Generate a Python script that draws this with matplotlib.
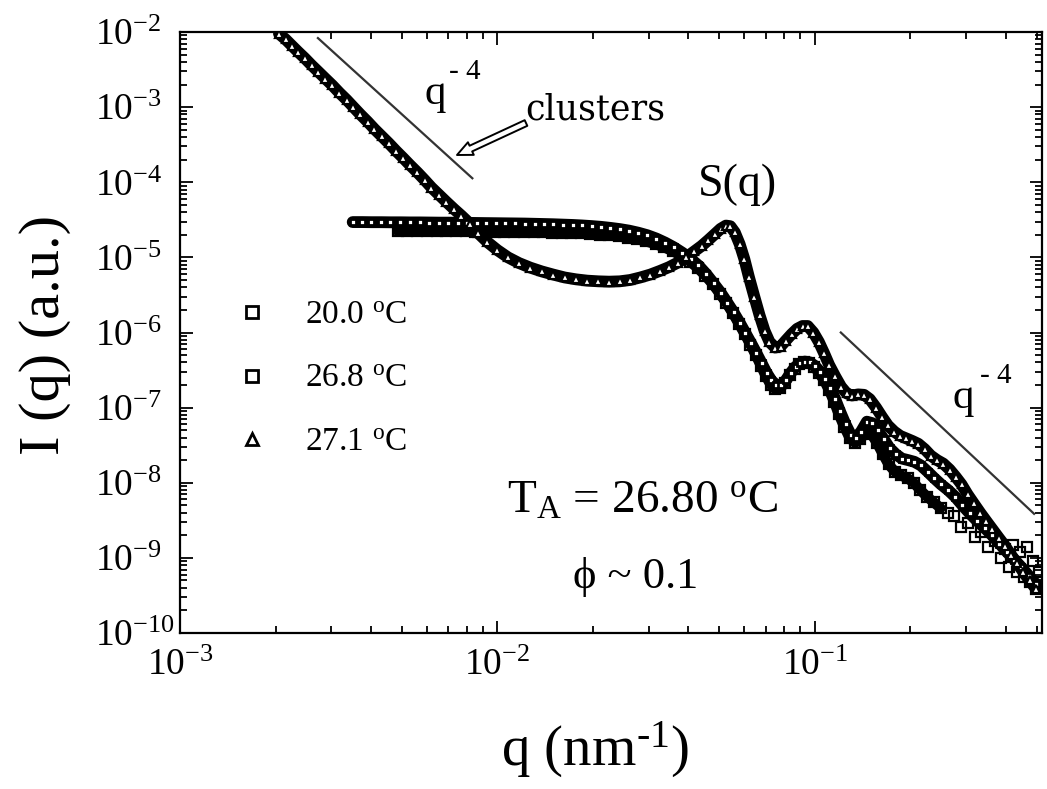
import matplotlib
matplotlib.use('Agg')
import matplotlib.pyplot as plt
from matplotlib.ticker import LogLocator, NullFormatter

# --- data -----------------------------------------------------------------
# 27.1 C : cluster upturn, dip and S(q) peak
q_271 = [2.05e-3, 2.15e-3, 2.25e-3, 2.35e-3, 2.47e-3, 2.6e-3, 2.73e-3, 2.87e-3,
         3.02e-3, 3.18e-3, 3.35e-3, 3.52e-3, 3.7e-3, 3.9e-3, 4.1e-3, 4.32e-3,
         4.55e-3, 4.8e-3, 5.05e-3, 5.3e-3, 5.6e-3, 5.9e-3, 6.2e-3, 6.55e-3,
         6.9e-3, 7.3e-3, 7.7e-3, 8.2e-3, 8.7e-3, 9.3e-3, 1.0e-2, 1.08e-2,
         1.17e-2, 1.27e-2, 1.38e-2, 1.5e-2, 1.63e-2, 1.77e-2, 1.92e-2, 2.08e-2,
         2.25e-2, 2.43e-2, 2.62e-2, 2.82e-2, 3.03e-2, 3.25e-2, 3.47e-2, 3.7e-2,
         3.93e-2, 4.17e-2, 4.4e-2, 4.62e-2, 4.85e-2, 5.05e-2, 5.25e-2, 5.42e-2,
         5.6e-2, 5.8e-2, 6.0e-2, 6.2e-2, 6.45e-2, 6.7e-2, 6.95e-2, 7.2e-2,
         7.5e-2, 7.8e-2, 8.1e-2, 8.45e-2, 8.8e-2, 9.15e-2, 9.5e-2, 9.9e-2,
         1.03e-1, 1.07e-1, 1.11e-1, 1.16e-1, 1.21e-1, 1.26e-1, 1.31e-1, 1.37e-1,
         1.43e-1, 1.49e-1, 1.56e-1, 1.63e-1, 1.7e-1, 1.78e-1, 1.86e-1, 1.94e-1,
         2.03e-1, 2.12e-1, 2.22e-1, 2.32e-1, 2.43e-1, 2.54e-1, 2.66e-1, 2.78e-1,
         2.9e-1, 3.03e-1, 3.17e-1, 3.32e-1, 3.47e-1, 3.63e-1, 3.8e-1, 3.97e-1,
         4.15e-1, 4.34e-1, 4.54e-1, 4.75e-1, 4.97e-1]
I_271 = [9.5e-3, 8.0e-3, 6.6e-3, 5.5e-3, 4.5e-3, 3.6e-3, 2.95e-3, 2.4e-3,
         1.95e-3, 1.55e-3, 1.25e-3, 1.0e-3, 8.0e-4, 6.4e-4, 5.1e-4, 4.1e-4,
         3.3e-4, 2.6e-4, 2.1e-4, 1.7e-4, 1.35e-4, 1.07e-4, 8.5e-5, 6.8e-5,
         5.5e-5, 4.4e-5, 3.6e-5, 2.8e-5, 2.1e-5, 1.6e-5, 1.25e-5, 1.0e-5,
         8.4e-6, 7.3e-6, 6.5e-6, 5.9e-6, 5.4e-6, 5.1e-6, 4.9e-6, 4.8e-6,
         4.75e-6, 4.8e-6, 5.0e-6, 5.4e-6, 5.9e-6, 6.6e-6, 7.4e-6, 8.5e-6,
         1.0e-5, 1.2e-5, 1.42e-5, 1.7e-5, 2.05e-5, 2.4e-5, 2.65e-5, 2.6e-5,
         2.15e-5, 1.5e-5, 9.5e-6, 5.5e-6, 3.0e-6, 1.7e-6, 1.05e-6, 7.5e-7,
         6.3e-7, 6.5e-7, 7.8e-7, 9.5e-7, 1.12e-6, 1.22e-6, 1.22e-6, 1.0e-6,
         7.5e-7, 5.3e-7, 3.7e-7, 2.6e-7, 1.9e-7, 1.55e-7, 1.45e-7, 1.5e-7,
         1.48e-7, 1.3e-7, 1.0e-7, 7.5e-8, 5.8e-8, 4.8e-8, 4.2e-8, 3.9e-8,
         3.6e-8, 3.3e-8, 2.8e-8, 2.3e-8, 2.0e-8, 1.8e-8, 1.5e-8, 1.2e-8,
         9.5e-9, 7.0e-9, 5.3e-9, 4.0e-9, 3.1e-9, 2.4e-9, 1.85e-9, 1.45e-9,
         1.1e-9, 8.5e-10, 6.5e-10, 5.0e-10, 3.9e-10]

# 20.0 C : flat form factor
q_200 = [3.5e-3, 3.75e-3, 4.0e-3, 4.3e-3, 4.6e-3, 4.95e-3, 5.3e-3, 5.7e-3,
         6.1e-3, 6.55e-3, 7.0e-3, 7.5e-3, 8.05e-3, 8.6e-3, 9.2e-3, 9.9e-3,
         1.06e-2, 1.14e-2, 1.22e-2, 1.31e-2, 1.4e-2, 1.5e-2, 1.61e-2, 1.73e-2,
         1.85e-2, 1.98e-2, 2.12e-2, 2.27e-2, 2.43e-2, 2.6e-2, 2.78e-2, 2.97e-2,
         3.17e-2, 3.38e-2, 3.6e-2, 3.83e-2, 4.06e-2, 4.3e-2, 4.55e-2, 4.8e-2,
         5.05e-2, 5.3e-2, 5.55e-2, 5.8e-2, 6.05e-2, 6.3e-2, 6.55e-2, 6.8e-2,
         7.05e-2, 7.3e-2, 7.55e-2, 7.8e-2, 8.1e-2, 8.4e-2, 8.7e-2, 9.0e-2,
         9.3e-2, 9.65e-2, 1.0e-1, 1.04e-1, 1.08e-1, 1.12e-1, 1.16e-1, 1.2e-1,
         1.25e-1, 1.3e-1, 1.35e-1, 1.4e-1, 1.46e-1, 1.52e-1, 1.58e-1, 1.65e-1,
         1.72e-1, 1.8e-1, 1.88e-1, 1.97e-1, 2.06e-1, 2.16e-1, 2.27e-1, 2.38e-1,
         2.5e-1, 2.63e-1, 2.77e-1, 2.92e-1, 3.08e-1, 3.25e-1, 3.43e-1, 3.62e-1,
         3.82e-1, 4.03e-1, 4.25e-1, 4.48e-1, 4.72e-1, 4.97e-1]
I_200 = [2.95e-5, 2.95e-5, 2.94e-5, 2.94e-5, 2.93e-5, 2.93e-5, 2.92e-5, 2.92e-5,
         2.91e-5, 2.9e-5, 2.9e-5, 2.89e-5, 2.88e-5, 2.87e-5, 2.86e-5, 2.85e-5,
         2.84e-5, 2.83e-5, 2.82e-5, 2.8e-5, 2.78e-5, 2.76e-5, 2.73e-5, 2.7e-5,
         2.66e-5, 2.61e-5, 2.55e-5, 2.47e-5, 2.38e-5, 2.27e-5, 2.13e-5, 1.97e-5,
         1.78e-5, 1.57e-5, 1.36e-5, 1.15e-5, 9.6e-6, 7.8e-6, 6.0e-6, 4.5e-6,
         3.4e-6, 2.5e-6, 1.85e-6, 1.35e-6, 9.8e-7, 7.2e-7, 5.3e-7, 3.9e-7,
         2.9e-7, 2.3e-7, 2.0e-7, 2.0e-7, 2.3e-7, 2.9e-7, 3.5e-7, 3.9e-7,
         4.1e-7, 4.0e-7, 3.6e-7, 3.0e-7, 2.4e-7, 1.8e-7, 1.3e-7, 9.0e-8,
         6.0e-8, 4.3e-8, 4.0e-8, 4.8e-8, 6.5e-8, 6.2e-8, 5.0e-8, 3.8e-8,
         2.9e-8, 2.4e-8, 2.1e-8, 2.0e-8, 1.9e-8, 1.7e-8, 1.4e-8, 1.15e-8,
         9.5e-9, 8.0e-9, 6.5e-9, 5.0e-9, 3.9e-9, 3.1e-9, 2.5e-9, 2.0e-9,
         1.55e-9, 1.2e-9, 9.5e-10, 7.5e-10, 5.8e-10, 4.5e-10]

# 26.8 C : flat, noisy at high q
q_268 = [4.85e-3, 5.2e-3, 5.6e-3, 6.0e-3, 6.45e-3, 6.9e-3, 7.4e-3, 7.95e-3,
         8.5e-3, 9.1e-3, 9.8e-3, 1.05e-2, 1.13e-2, 1.21e-2, 1.3e-2, 1.39e-2,
         1.49e-2, 1.6e-2, 1.71e-2, 1.83e-2, 1.96e-2, 2.1e-2, 2.25e-2, 2.41e-2,
         2.58e-2, 2.76e-2, 2.95e-2, 3.15e-2, 3.36e-2, 3.58e-2, 3.81e-2, 4.04e-2,
         4.28e-2, 4.52e-2, 4.77e-2, 5.02e-2, 5.27e-2, 5.52e-2, 5.77e-2, 6.02e-2,
         6.27e-2, 6.52e-2, 6.77e-2, 7.02e-2, 7.27e-2, 7.52e-2, 7.77e-2, 8.05e-2,
         8.35e-2, 8.65e-2, 8.95e-2, 9.25e-2, 9.6e-2, 9.95e-2, 1.03e-1, 1.07e-1,
         1.11e-1, 1.15e-1, 1.19e-1, 1.24e-1, 1.29e-1, 1.34e-1, 1.39e-1, 1.45e-1,
         1.51e-1, 1.57e-1, 1.64e-1, 1.71e-1, 1.79e-1, 1.87e-1, 1.96e-1, 2.05e-1,
         2.15e-1, 2.26e-1, 2.37e-1, 2.49e-1, 2.62e-1, 2.75e-1, 2.89e-1, 3.04e-1,
         3.19e-1, 3.35e-1, 3.52e-1, 3.7e-1, 3.85e-1, 3.98e-1, 4.1e-1, 4.22e-1,
         4.33e-1, 4.44e-1, 4.55e-1, 4.66e-1, 4.77e-1, 4.88e-1, 4.98e-1, 5.08e-1]
I_268 = [2.25e-5, 2.25e-5, 2.24e-5, 2.24e-5, 2.23e-5, 2.23e-5, 2.22e-5, 2.22e-5,
         2.21e-5, 2.2e-5, 2.2e-5, 2.19e-5, 2.18e-5, 2.17e-5, 2.16e-5, 2.15e-5,
         2.14e-5, 2.12e-5, 2.1e-5, 2.08e-5, 2.05e-5, 2.01e-5, 1.96e-5, 1.9e-5,
         1.83e-5, 1.74e-5, 1.63e-5, 1.5e-5, 1.36e-5, 1.2e-5, 1.04e-5, 8.8e-6,
         7.2e-6, 5.7e-6, 4.4e-6, 3.3e-6, 2.45e-6, 1.8e-6, 1.3e-6, 9.5e-7,
         6.9e-7, 5.0e-7, 3.6e-7, 2.6e-7, 2.0e-7, 1.75e-7, 1.8e-7, 2.1e-7,
         2.7e-7, 3.3e-7, 3.8e-7, 4.0e-7, 3.9e-7, 3.5e-7, 2.9e-7, 2.3e-7,
         1.7e-7, 1.2e-7, 8.2e-8, 5.5e-8, 3.9e-8, 3.4e-8, 3.8e-8, 4.6e-8,
         4.4e-8, 3.4e-8, 2.4e-8, 1.75e-8, 1.4e-8, 1.25e-8, 1.15e-8, 1.0e-8,
         8.0e-9, 6.5e-9, 5.5e-9, 4.6e-9, 3.9e-9, 3.6e-9, 2.6e-9, 2.9e-9,
         1.9e-9, 2.2e-9, 1.4e-9, 1.7e-9, 1.0e-9, 1.3e-9, 7.5e-10, 1.5e-9,
         6.5e-10, 1.2e-9, 5.5e-10, 1.4e-9, 4.8e-10, 9.0e-10, 3.8e-10, 6.5e-10]

# q^-4 guide lines
guide_lo_q = [2.72e-3, 8.34e-3]
guide_lo_I = [8.3e-3, 1.13e-4]
guide_hi_q = [0.1208, 0.491]
guide_hi_I = [1.0e-6, 3.86e-9]

labels = ['20.0 $^{\\rm o}$C', '26.8 $^{\\rm o}$C', '27.1 $^{\\rm o}$C']

# --- style -------------------------------------------------------------------
plt.rcParams['font.family'] = ['Liberation Serif', 'DejaVu Serif']
plt.rcParams['mathtext.fontset'] = 'custom'
plt.rcParams['mathtext.rm'] = 'Liberation Serif'
plt.rcParams['mathtext.it'] = 'Liberation Serif:italic'
plt.rcParams['mathtext.bf'] = 'Liberation Serif:bold'

W, H = 1047, 789


def fx(x):
    return x / W


def fy(y):
    return 1 - y / H


fig = plt.figure(figsize=(W / 100, H / 100), dpi=100)
ax = fig.add_axes([fx(180), fy(633), (1042 - 180) / W, (633 - 32) / H])

# thick black bands underneath, then the markers on top
band = dict(color='black', solid_capstyle='round', solid_joinstyle='round', zorder=2)
ax.plot(q_271, I_271, lw=8.5, **band)
ax.plot(q_200, I_200, lw=8.5, **band)
ax.plot(q_268[:76], I_268[:76], lw=7.5, **band)

h268, = ax.plot(q_268, I_268, 's', ms=7.5, mfc='none', mec='black', mew=1.6,
                zorder=3, label=labels[1])
h200, = ax.plot(q_200, I_200, 's', ms=5, mfc='white', mec='black', mew=2.0,
                zorder=3, label=labels[0])
h271, = ax.plot(q_271, I_271, '^', ms=5.5, mfc='white', mec='black', mew=1.6,
                zorder=4, label=labels[2])

ax.plot(guide_lo_q, guide_lo_I, color='#333333', lw=1.6, zorder=1)
ax.plot(guide_hi_q, guide_hi_I, color='#333333', lw=1.6, zorder=1)

ax.set_xscale('log')
ax.set_yscale('log')
ax.set_xlim(1e-3, 0.52)
ax.set_ylim(1e-10, 1e-2)

ax.xaxis.set_major_locator(LogLocator(base=10, numticks=20))
ax.yaxis.set_major_locator(LogLocator(base=10, numticks=20))
for axis in (ax.xaxis, ax.yaxis):
    axis.set_minor_locator(LogLocator(base=10, subs=range(2, 10), numticks=100))
    axis.set_minor_formatter(NullFormatter())

ax.tick_params(which='both', direction='in', top=True, right=True, width=1.3)
ax.tick_params(which='major', length=9, labelsize=27)
ax.tick_params(which='minor', length=5)
ax.tick_params(axis='y', which='major', pad=61)
ax.tick_params(axis='x', which='major', pad=11)
plt.setp(ax.get_yticklabels(), ha='left')
for sp in ax.spines.values():
    sp.set_linewidth(1.6)

# axis labels
fig.text(fx(45), fy(335), 'I (q) (a.u.)', rotation=90, ha='center', va='center',
         fontsize=42)
fig.text(fx(595), fy(750), 'q (nm$^{\\rm \u2010 1}$)', ha='center', va='center',
         fontsize=41)

# legend
leg = ax.legend(handles=[h200, h268, h271], labels=labels, loc='upper left',
                bbox_to_anchor=((235 - 180) / 862, 1 - (300 - 32) / 601),
                frameon=False, fontsize=24, handlelength=1.0, handletextpad=1.1,
                labelspacing=1.0, borderpad=0, borderaxespad=0, numpoints=1)
for hnd in leg.legend_handles:
    hnd.set_markersize(8)
    hnd.set_markeredgewidth(2)
    hnd.set_markerfacecolor('white')

# annotations
fig.text(fx(425), fy(104), 'q', fontsize=31, ha='left', va='baseline')
fig.text(fx(449), fy(79), '- 4', fontsize=21, ha='left', va='baseline')
fig.text(fx(953), fy(408), 'q', fontsize=31, ha='left', va='baseline')
fig.text(fx(980), fy(383), '- 4', fontsize=21, ha='left', va='baseline')

fig.text(fx(525), fy(119), 'clusters', fontsize=25, family='DejaVu Serif',
         ha='left', va='baseline')
ax.annotate('', xy=(fx(457), fy(155)), xycoords='figure fraction',
            xytext=(fx(526), fy(123)), textcoords='figure fraction',
            arrowprops=dict(arrowstyle='simple,head_length=1.1,head_width=1.0,tail_width=0.45',
                            fc='white', ec='black', lw=1.4, shrinkA=0, shrinkB=0))

fig.text(fx(698), fy(196), 'S(q)', fontsize=33, ha='left', va='baseline')
fig.text(fx(507), fy(513), 'T$_{\\rm A}$ = 26.80 $^{\\rm o}$C', fontsize=34,
         ha='left', va='baseline')
fig.text(fx(573), fy(588), '\u03d5 ~ 0.1', fontsize=32, ha='left', va='baseline')

fig.savefig('out.png', dpi=100)
